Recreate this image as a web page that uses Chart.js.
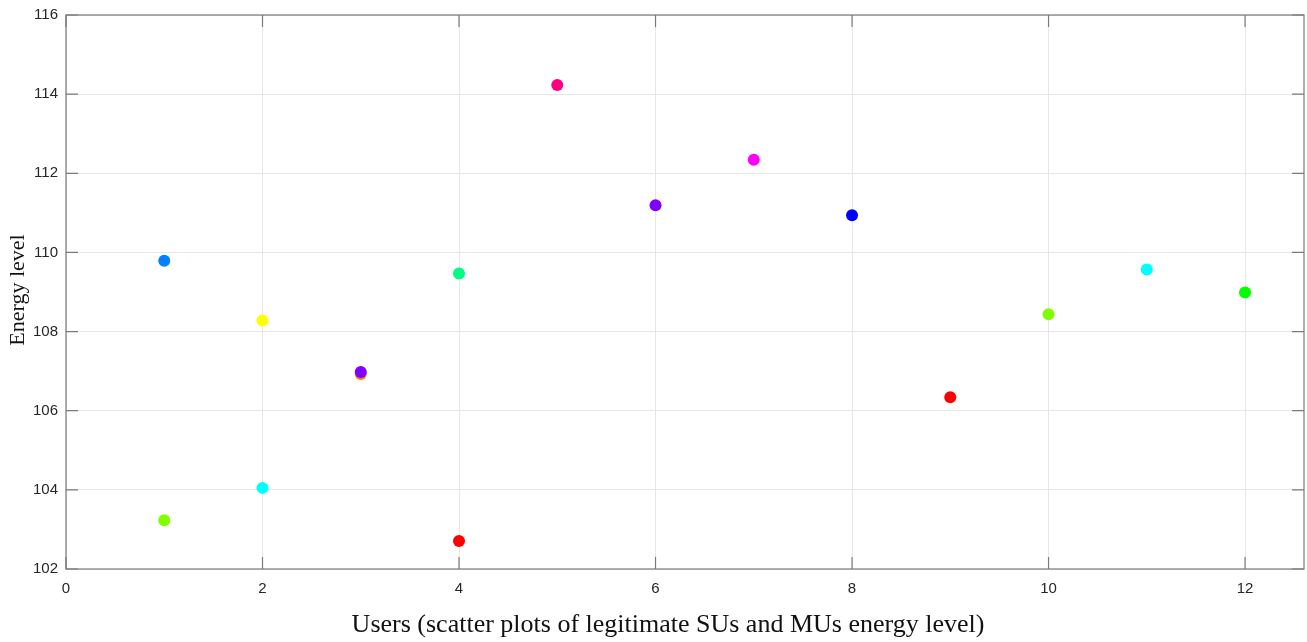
<!DOCTYPE html>
<html>
<head>
<meta charset="utf-8">
<script src="https://cdn.jsdelivr.net/npm/chart.js@4.4.1/dist/chart.umd.min.js"></script>
<style>
  html, body { margin: 0; padding: 0; background: #fff; overflow: hidden; }
  #wrap { width: 1310px; height: 644px; position: relative; top: -2px; }
</style>
</head>
<body>
<div id="wrap"><canvas id="energy-chart"></canvas></div>
<script>
// user index and measured energy level of each SU / MU
const users = [1, 1, 2, 2, 3, 3, 4, 4, 5, 6, 7, 8, 9, 10, 11, 12];
const energy = [109.79, 103.23, 108.28, 104.05, 106.93, 106.98, 109.47, 102.71,
                114.23, 111.19, 112.34, 110.94, 106.34, 108.44, 109.57, 108.99];
const pointColors = ['#0080ff', '#80ff00', '#ffff00', '#00ffff', '#ff8000', '#8000ff', '#00ff80', '#ff0000',
                     '#ff0080', '#8000ff', '#ff00ff', '#0000ff', '#ff0000', '#80ff00', '#00ffff', '#00ff00'];
const xTicks = [0, 2, 4, 6, 8, 10, 12];
const yTicks = [102, 104, 106, 108, 110, 112, 114, 116];
const xTitle = 'Users (scatter plots of legitimate SUs and MUs energy level)';
const yTitle = 'Energy level';

const points = users.map((u, i) => ({ x: u, y: energy[i] }));

// axes box with inward tick marks on all four sides, plus the axis titles
const boxPlugin = {
    id: 'box',
    afterDatasetsDraw(chart) {
        const { ctx, chartArea: a, scales: { x, y } } = chart;
        ctx.save();
        ctx.strokeStyle = '#7a7a7a';
        ctx.lineWidth = 1.2;
        ctx.strokeRect(a.left, a.top, a.right - a.left, a.bottom - a.top);
        ctx.beginPath();
        xTicks.forEach(t => {
            const px = x.getPixelForValue(t);
            ctx.moveTo(px, a.bottom); ctx.lineTo(px, a.bottom - 12);
            ctx.moveTo(px, a.top); ctx.lineTo(px, a.top + 12);
        });
        yTicks.forEach(t => {
            const py = y.getPixelForValue(t);
            ctx.moveTo(a.left, py); ctx.lineTo(a.left + 12, py);
            ctx.moveTo(a.right, py); ctx.lineTo(a.right - 12, py);
        });
        ctx.stroke();

        ctx.fillStyle = '#111';
        ctx.textAlign = 'center';
        ctx.textBaseline = 'alphabetic';
        ctx.font = '26px "Liberation Serif", "Times New Roman", serif';
        ctx.fillText(xTitle, 668, 634);

        ctx.translate(18, 292);
        ctx.rotate(-Math.PI / 2);
        ctx.textBaseline = 'middle';
        ctx.font = '22px "Liberation Serif", "Times New Roman", serif';
        ctx.fillText(yTitle, 0, 0);
        ctx.restore();
    }
};

new Chart(document.getElementById('energy-chart'), {
    type: 'scatter',
    data: {
        datasets: [{
            data: points,
            backgroundColor: pointColors,
            borderColor: pointColors,
            pointRadius: 6,
            pointHoverRadius: 6,
            borderWidth: 0
        }]
    },
    options: {
        responsive: true,
        maintainAspectRatio: false,
        animation: false,
        layout: { padding: { top: 12, right: 0, left: 0, bottom: 0 } },
        plugins: { legend: { display: false }, tooltip: { enabled: false } },
        scales: {
            x: {
                min: 0,
                max: 12.6,
                afterBuildTicks: s => { s.ticks = xTicks.map(v => ({ value: v })); },
                afterFit: s => { s.height = 73; },
                grid: { color: '#e6e6e6', drawTicks: false },
                border: { display: false },
                ticks: {
                    color: '#262626',
                    padding: 11,
                    maxRotation: 0,
                    font: { family: 'Liberation Sans, Arial', size: 15 }
                }
            },
            y: {
                min: 102,
                max: 116,
                afterBuildTicks: s => { s.ticks = yTicks.map(v => ({ value: v })); },
                afterFit: s => { s.width = 66; },
                grid: { color: '#e6e6e6', drawTicks: false },
                border: { display: false },
                ticks: {
                    color: '#262626',
                    padding: 8,
                    font: { family: 'Liberation Sans, Arial', size: 15 }
                }
            }
        }
    },
    plugins: [boxPlugin]
});
</script>
</body>
</html>
